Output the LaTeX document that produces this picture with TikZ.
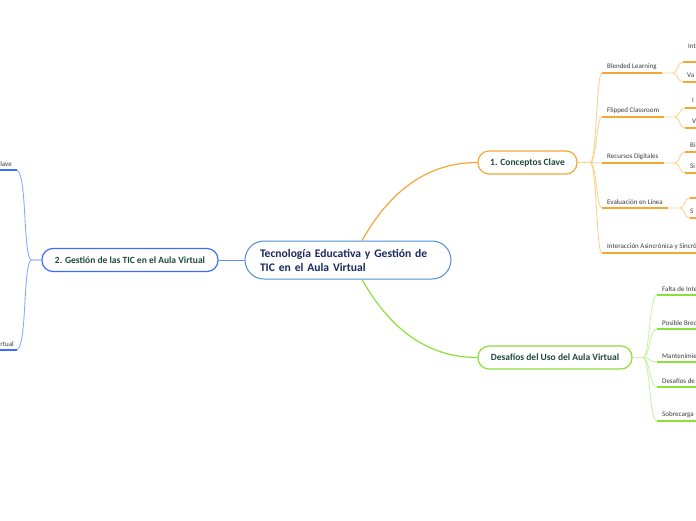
\documentclass[tikz,border=0pt]{standalone}
\usepackage{fontspec}
\setmainfont{Carlito}
\usetikzlibrary{positioning}
\definecolor{rootblue}{HTML}{4A90D9}
\definecolor{navy}{HTML}{1B2A5C}
\definecolor{gblue}{HTML}{3A6FF7}
\definecolor{lblue}{HTML}{8CABFF}
\definecolor{orng}{HTML}{F7A535}
\definecolor{lorng}{HTML}{FCD291}
\definecolor{grn}{HTML}{8BE03A}
\definecolor{lgrn}{HTML}{C9F2A6}
\definecolor{dgreen}{HTML}{1E4A3C}
\definecolor{leaftext}{HTML}{3A3A3A}
\tikzset{
 rootbox/.style={draw=rootblue, line width=1pt, rounded corners=19pt, minimum width=206pt, minimum height=38pt, fill=white, text=navy, font=\fontsize{11.6}{14}\selectfont\bfseries, align=left, text width=176pt},
 topic/.style={draw=#1, line width=1.2pt, rounded corners=11pt, minimum height=23pt, fill=white, text=dgreen, font=\fontsize{9.5}{11}\selectfont\bfseries},
 leaf/.style={text=leaftext, font=\fontsize{7}{8}\selectfont, inner xsep=5pt, inner ysep=3pt},
 bline/.style={gblue, line width=1.2pt},
 bcurve/.style={lblue, line width=0.9pt},
 oline/.style={orng, line width=1.4pt},
 ocurve/.style={lorng, line width=0.9pt},
 gline/.style={grn, line width=1.4pt},
 gcurve/.style={lgrn, line width=0.9pt}
}
\begin{document}
\begin{tikzpicture}[x=1pt,y=-1pt]
 \useasboundingbox (0,0) rectangle (696,520);
 \clip (0,0) rectangle (696,520);

 \node[rootbox] (root) at (348,260) {Tecnología Educativa y Gestión de\\TIC en el Aula Virtual};
 \node[topic=gblue, minimum width=176pt] (gest) at (130,260) {2. Gestión de las TIC en el Aula Virtual};
 \node[topic=orng, minimum width=99pt] (conc) at (527.5,162.5) {1. Conceptos Clave};
 \node[topic=grn, minimum width=154pt] (desa) at (555,357.5) {Desafíos del Uso del Aula Virtual};

 \draw[gblue!80, line width=1pt] (root.west) -- (gest.east);
 \draw[orng, line width=1.2pt] ([xshift=14pt]root.north) .. controls (385,200) and (420,162.5) .. (conc.west);
 \draw[grn, line width=1.2pt] ([xshift=14pt]root.south) .. controls (385,320) and (420,357.5) .. (desa.west);

 \node[leaf, anchor=south east] (hc) at (17,170) {lave};
 \node[leaf, anchor=south east, inner xsep=3pt] (av) at (17,350) {rtual};
 \draw[bline] (hc.south west) -- (hc.south east);
 \draw[bline] ([xshift=-4pt]av.south west) -- (av.south east);
 \draw[bcurve] (gest.west) -- (31,260) .. controls (23,255) and (27,174) .. (hc.south east);
 \draw[bcurve] (gest.west) -- (31,260) .. controls (23,265) and (27,346) .. (av.south east);

 \node[leaf, anchor=south west] (bl) at (602,73) {Blended Learning};
 \node[leaf, anchor=south west] (fc) at (602,117) {Flipped Classroom};
 \node[leaf, anchor=south west] (rd) at (602,163) {Recursos Digitales};
 \node[leaf, anchor=south west] (ev) at (602,208) {Evaluación en Línea};
 \node[leaf, anchor=south west] (ia) at (602,253) {Interacción Asincrónica y Sincró};
 \coordinate (of) at (590,162.5);
 \draw[ocurve] (conc.east) -- (of);
 \foreach \n/\y in {bl/73, fc/117, rd/163, ev/208, ia/253}{
  \draw[ocurve] (of) .. controls (597,162.5) and (596,\y) .. (\n.south west);
  \draw[oline] (\n.south west) -- (\n.south east);
 }
 \foreach \n/\fx/\y/\a/\b in {bl/673/73/62/82, fc/675/117/108/128, rd/675/163/152/173, ev/680/208/198/218}{
  \draw[ocurve] (\n.south east) -- (\fx,\y) .. controls (\fx+5,\y) and (\fx+4,\a) .. (\fx+10,\a);
  \draw[ocurve] (\fx,\y) .. controls (\fx+5,\y) and (\fx+4,\b) .. (\fx+10,\b);
  \draw[oline] (\fx+10,\a) -- (700,\a);
  \draw[oline] (\fx+10,\b) -- (700,\b);
 }
 \foreach \t/\x/\y in {Int/688/46, Va/687/75, I/692/100, V/692/121, Bi/690/145, Si/690/166, S/690/211}
  \node[leaf, anchor=west, inner xsep=0pt] (g-\t) at (\x,\y) {\t};

 \node[leaf, anchor=south west] (fi) at (657,295) {Falta de Inte};
 \node[leaf, anchor=south west] (pb) at (657,329) {Posible Brec};
 \node[leaf, anchor=south west] (mt) at (657,362) {Mantenimie};
 \node[leaf, anchor=south west] (dd) at (657,387) {Desafíos de};
 \node[leaf, anchor=south west] (sc) at (657,421) {Sobrecarga};
 \coordinate (gf) at (643,357.5);
 \draw[gcurve] (desa.east) -- (gf);
 \foreach \n/\y in {fi/295, pb/329, mt/362, dd/387, sc/421}{
  \draw[gcurve] (gf) .. controls (650,357.5) and (649,\y) .. (\n.south west);
  \draw[gline] (\n.south west) -- (700,\y);
 }
\end{tikzpicture}
\end{document}
